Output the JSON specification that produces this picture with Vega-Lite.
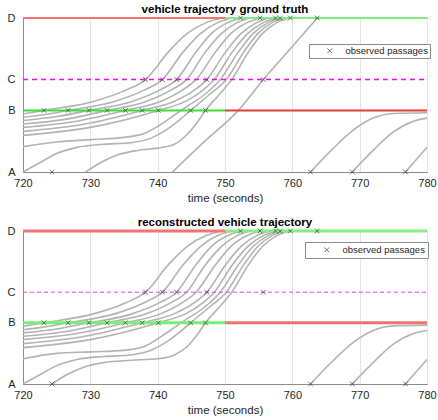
{
  "$schema": "https://vega.github.io/schema/vega-lite/v6.json",
  "background": "white",
  "padding": {"left": 6, "top": 3, "right": 4, "bottom": 0},
  "config": {
    "font": "Liberation Sans",
    "view": {"stroke": "#8c8c8c", "strokeWidth": 1},
    "axis": {"domainColor": "#8c8c8c", "labelColor": "#262626", "titleColor": "#262626", "labelFont": "Liberation Sans", "titleFont": "Liberation Sans", "labelFontSize": 11, "titleFontSize": 11.5, "titleFontWeight": "normal", "ticks": false, "tickSize": 0},
    "title": {"font": "Liberation Sans", "fontSize": 11.5, "fontWeight": "bold", "color": "#000000", "offset": -3},
    "legend": {"labelFont": "Liberation Sans"}
  },
  "datasets": {
    "truth": [
      {"id": "q1", "t": 720, "v": 0.377}, {"id": "q1", "t": 723.1, "v": 0.4}, {"id": "q1", "t": 730.6, "v": 0.46}, {"id": "q1", "t": 735.2, "v": 0.53}, {"id": "q1", "t": 738.2, "v": 0.6}, {"id": "q1", "t": 741.6, "v": 0.78}, {"id": "q1", "t": 744.4, "v": 0.9}, {"id": "q1", "t": 747.2, "v": 0.97}, {"id": "q1", "t": 749.5, "v": 1.0},
      {"id": "q2", "t": 720, "v": 0.355}, {"id": "q2", "t": 723, "v": 0.372}, {"id": "q2", "t": 726.7, "v": 0.4}, {"id": "q2", "t": 733.7, "v": 0.46}, {"id": "q2", "t": 737.9, "v": 0.53}, {"id": "q2", "t": 740.7, "v": 0.6}, {"id": "q2", "t": 743.8, "v": 0.78}, {"id": "q2", "t": 746.4, "v": 0.9}, {"id": "q2", "t": 748.9, "v": 0.97}, {"id": "q2", "t": 751, "v": 1.0},
      {"id": "q3", "t": 720, "v": 0.334}, {"id": "q3", "t": 725, "v": 0.36}, {"id": "q3", "t": 729.8, "v": 0.4}, {"id": "q3", "t": 736.3, "v": 0.46}, {"id": "q3", "t": 740.2, "v": 0.53}, {"id": "q3", "t": 742.8, "v": 0.6}, {"id": "q3", "t": 745.7, "v": 0.78}, {"id": "q3", "t": 748, "v": 0.9}, {"id": "q3", "t": 750.4, "v": 0.97}, {"id": "q3", "t": 752.3, "v": 1.0},
      {"id": "q4", "t": 720, "v": 0.312}, {"id": "q4", "t": 726, "v": 0.34}, {"id": "q4", "t": 732.5, "v": 0.4}, {"id": "q4", "t": 738.4, "v": 0.46}, {"id": "q4", "t": 741.9, "v": 0.53}, {"id": "q4", "t": 744.3, "v": 0.6}, {"id": "q4", "t": 747.1, "v": 0.78}, {"id": "q4", "t": 749.5, "v": 0.9}, {"id": "q4", "t": 751.8, "v": 0.97}, {"id": "q4", "t": 753.7, "v": 1.0},
      {"id": "q5", "t": 720, "v": 0.29}, {"id": "q5", "t": 728, "v": 0.33}, {"id": "q5", "t": 735.2, "v": 0.4}, {"id": "q5", "t": 740.5, "v": 0.46}, {"id": "q5", "t": 743.6, "v": 0.53}, {"id": "q5", "t": 745.7, "v": 0.6}, {"id": "q5", "t": 748.6, "v": 0.78}, {"id": "q5", "t": 750.9, "v": 0.9}, {"id": "q5", "t": 753.3, "v": 0.97}, {"id": "q5", "t": 755.2, "v": 1.0},
      {"id": "q6", "t": 720, "v": 0.264}, {"id": "q6", "t": 729, "v": 0.31}, {"id": "q6", "t": 737.7, "v": 0.4}, {"id": "q6", "t": 742.5, "v": 0.46}, {"id": "q6", "t": 745.4, "v": 0.53}, {"id": "q6", "t": 747.3, "v": 0.6}, {"id": "q6", "t": 750.1, "v": 0.78}, {"id": "q6", "t": 752.4, "v": 0.9}, {"id": "q6", "t": 754.7, "v": 0.97}, {"id": "q6", "t": 756.5, "v": 1.0},
      {"id": "q7", "t": 720, "v": 0.238}, {"id": "q7", "t": 730, "v": 0.29}, {"id": "q7", "t": 740.1, "v": 0.4}, {"id": "q7", "t": 744.2, "v": 0.46}, {"id": "q7", "t": 746.7, "v": 0.53}, {"id": "q7", "t": 748.4, "v": 0.6}, {"id": "q7", "t": 751.1, "v": 0.78}, {"id": "q7", "t": 753.4, "v": 0.9}, {"id": "q7", "t": 755.7, "v": 0.97}, {"id": "q7", "t": 757.5, "v": 1.0},
      {"id": "q8", "t": 720, "v": 0.165}, {"id": "q8", "t": 725, "v": 0.195}, {"id": "q8", "t": 730, "v": 0.21}, {"id": "q8", "t": 735, "v": 0.225}, {"id": "q8", "t": 738, "v": 0.25}, {"id": "q8", "t": 740.5, "v": 0.31}, {"id": "q8", "t": 742.5, "v": 0.37}, {"id": "q8", "t": 744.5, "v": 0.43}, {"id": "q8", "t": 746.9, "v": 0.5}, {"id": "q8", "t": 749.3, "v": 0.6}, {"id": "q8", "t": 752, "v": 0.78}, {"id": "q8", "t": 754.2, "v": 0.9}, {"id": "q8", "t": 756.4, "v": 0.97}, {"id": "q8", "t": 758.2, "v": 1.0},
      {"id": "q9", "t": 720, "v": 0}, {"id": "q9", "t": 722.5, "v": 0.06}, {"id": "q9", "t": 725, "v": 0.12}, {"id": "q9", "t": 728, "v": 0.16}, {"id": "q9", "t": 732, "v": 0.18}, {"id": "q9", "t": 736, "v": 0.19}, {"id": "q9", "t": 739, "v": 0.22}, {"id": "q9", "t": 741.5, "v": 0.28}, {"id": "q9", "t": 743.3, "v": 0.34}, {"id": "q9", "t": 744.9, "v": 0.4}, {"id": "q9", "t": 747.6, "v": 0.5}, {"id": "q9", "t": 750.2, "v": 0.6}, {"id": "q9", "t": 752.8, "v": 0.78}, {"id": "q9", "t": 754.9, "v": 0.9}, {"id": "q9", "t": 757, "v": 0.97}, {"id": "q9", "t": 759, "v": 1.0},
      {"id": "q10", "t": 729.3, "v": 0}, {"id": "q10", "t": 731.5, "v": 0.06}, {"id": "q10", "t": 734, "v": 0.11}, {"id": "q10", "t": 737, "v": 0.14}, {"id": "q10", "t": 740, "v": 0.155}, {"id": "q10", "t": 742.5, "v": 0.18}, {"id": "q10", "t": 744.5, "v": 0.25}, {"id": "q10", "t": 746, "v": 0.33}, {"id": "q10", "t": 747.1, "v": 0.4}, {"id": "q10", "t": 749.1, "v": 0.5}, {"id": "q10", "t": 751, "v": 0.6}, {"id": "q10", "t": 753.5, "v": 0.78}, {"id": "q10", "t": 755.6, "v": 0.9}, {"id": "q10", "t": 757.7, "v": 0.97}, {"id": "q10", "t": 759.7, "v": 1.0},
      {"id": "s", "t": 742.2, "v": 0}, {"id": "s", "t": 747, "v": 0.2}, {"id": "s", "t": 752, "v": 0.4}, {"id": "s", "t": 755.7, "v": 0.6}, {"id": "s", "t": 759.7, "v": 0.8}, {"id": "s", "t": 763.7, "v": 1.0},
      {"id": "r1", "t": 762.7, "v": 0}, {"id": "r1", "t": 766, "v": 0.15}, {"id": "r1", "t": 769, "v": 0.27}, {"id": "r1", "t": 772, "v": 0.35}, {"id": "r1", "t": 775, "v": 0.38}, {"id": "r1", "t": 780, "v": 0.385},
      {"id": "r2", "t": 768.9, "v": 0}, {"id": "r2", "t": 772, "v": 0.14}, {"id": "r2", "t": 775, "v": 0.26}, {"id": "r2", "t": 778, "v": 0.33}, {"id": "r2", "t": 780, "v": 0.35},
      {"id": "r3", "t": 776.8, "v": 0}, {"id": "r3", "t": 780, "v": 0.16}
    ],
    "recon": [
      {"id": "q1", "t": 720, "v": 0.377}, {"id": "q1", "t": 723.1, "v": 0.4}, {"id": "q1", "t": 730.6, "v": 0.46}, {"id": "q1", "t": 735.2, "v": 0.53}, {"id": "q1", "t": 738.2, "v": 0.6}, {"id": "q1", "t": 741.6, "v": 0.78}, {"id": "q1", "t": 744.4, "v": 0.9}, {"id": "q1", "t": 747.2, "v": 0.97}, {"id": "q1", "t": 749.5, "v": 1.0},
      {"id": "q2", "t": 720, "v": 0.355}, {"id": "q2", "t": 723, "v": 0.372}, {"id": "q2", "t": 726.7, "v": 0.4}, {"id": "q2", "t": 733.7, "v": 0.46}, {"id": "q2", "t": 737.9, "v": 0.53}, {"id": "q2", "t": 740.7, "v": 0.6}, {"id": "q2", "t": 743.8, "v": 0.78}, {"id": "q2", "t": 746.4, "v": 0.9}, {"id": "q2", "t": 748.9, "v": 0.97}, {"id": "q2", "t": 751, "v": 1.0},
      {"id": "q3", "t": 720, "v": 0.334}, {"id": "q3", "t": 725, "v": 0.36}, {"id": "q3", "t": 729.8, "v": 0.4}, {"id": "q3", "t": 736.3, "v": 0.46}, {"id": "q3", "t": 740.2, "v": 0.53}, {"id": "q3", "t": 742.8, "v": 0.6}, {"id": "q3", "t": 745.7, "v": 0.78}, {"id": "q3", "t": 748, "v": 0.9}, {"id": "q3", "t": 750.4, "v": 0.97}, {"id": "q3", "t": 752.3, "v": 1.0},
      {"id": "q4", "t": 720, "v": 0.312}, {"id": "q4", "t": 726, "v": 0.34}, {"id": "q4", "t": 732.5, "v": 0.4}, {"id": "q4", "t": 738.4, "v": 0.46}, {"id": "q4", "t": 741.9, "v": 0.53}, {"id": "q4", "t": 744.3, "v": 0.6}, {"id": "q4", "t": 747.1, "v": 0.78}, {"id": "q4", "t": 749.5, "v": 0.9}, {"id": "q4", "t": 751.8, "v": 0.97}, {"id": "q4", "t": 753.7, "v": 1.0},
      {"id": "q5", "t": 720, "v": 0.29}, {"id": "q5", "t": 728, "v": 0.33}, {"id": "q5", "t": 735.2, "v": 0.4}, {"id": "q5", "t": 740.5, "v": 0.46}, {"id": "q5", "t": 743.6, "v": 0.53}, {"id": "q5", "t": 745.7, "v": 0.6}, {"id": "q5", "t": 748.6, "v": 0.78}, {"id": "q5", "t": 750.9, "v": 0.9}, {"id": "q5", "t": 753.3, "v": 0.97}, {"id": "q5", "t": 755.2, "v": 1.0},
      {"id": "q6", "t": 720, "v": 0.264}, {"id": "q6", "t": 729, "v": 0.31}, {"id": "q6", "t": 737.7, "v": 0.4}, {"id": "q6", "t": 742.5, "v": 0.46}, {"id": "q6", "t": 745.4, "v": 0.53}, {"id": "q6", "t": 747.3, "v": 0.6}, {"id": "q6", "t": 750.1, "v": 0.78}, {"id": "q6", "t": 752.4, "v": 0.9}, {"id": "q6", "t": 754.7, "v": 0.97}, {"id": "q6", "t": 756.5, "v": 1.0},
      {"id": "q7", "t": 720, "v": 0.238}, {"id": "q7", "t": 730, "v": 0.29}, {"id": "q7", "t": 740.1, "v": 0.4}, {"id": "q7", "t": 744.2, "v": 0.46}, {"id": "q7", "t": 746.7, "v": 0.53}, {"id": "q7", "t": 748.4, "v": 0.6}, {"id": "q7", "t": 751.1, "v": 0.78}, {"id": "q7", "t": 753.4, "v": 0.9}, {"id": "q7", "t": 755.7, "v": 0.97}, {"id": "q7", "t": 757.5, "v": 1.0},
      {"id": "q8", "t": 720, "v": 0.165}, {"id": "q8", "t": 725, "v": 0.2}, {"id": "q8", "t": 730, "v": 0.21}, {"id": "q8", "t": 735, "v": 0.22}, {"id": "q8", "t": 738, "v": 0.245}, {"id": "q8", "t": 740.5, "v": 0.31}, {"id": "q8", "t": 742.5, "v": 0.37}, {"id": "q8", "t": 744.5, "v": 0.43}, {"id": "q8", "t": 746.9, "v": 0.5}, {"id": "q8", "t": 749.3, "v": 0.6}, {"id": "q8", "t": 752, "v": 0.78}, {"id": "q8", "t": 754.2, "v": 0.9}, {"id": "q8", "t": 756.4, "v": 0.97}, {"id": "q8", "t": 758.2, "v": 1.0},
      {"id": "q9", "t": 720, "v": 0}, {"id": "q9", "t": 722.5, "v": 0.06}, {"id": "q9", "t": 725, "v": 0.12}, {"id": "q9", "t": 728, "v": 0.16}, {"id": "q9", "t": 732, "v": 0.18}, {"id": "q9", "t": 736, "v": 0.19}, {"id": "q9", "t": 739, "v": 0.22}, {"id": "q9", "t": 741.5, "v": 0.28}, {"id": "q9", "t": 743.3, "v": 0.34}, {"id": "q9", "t": 744.9, "v": 0.4}, {"id": "q9", "t": 747.6, "v": 0.5}, {"id": "q9", "t": 750.2, "v": 0.6}, {"id": "q9", "t": 752.8, "v": 0.78}, {"id": "q9", "t": 754.9, "v": 0.9}, {"id": "q9", "t": 757, "v": 0.97}, {"id": "q9", "t": 759, "v": 1.0},
      {"id": "q10", "t": 724.3, "v": 0}, {"id": "q10", "t": 726.5, "v": 0.06}, {"id": "q10", "t": 729, "v": 0.11}, {"id": "q10", "t": 732, "v": 0.14}, {"id": "q10", "t": 736, "v": 0.155}, {"id": "q10", "t": 740, "v": 0.165}, {"id": "q10", "t": 742.5, "v": 0.19}, {"id": "q10", "t": 744.5, "v": 0.25}, {"id": "q10", "t": 746, "v": 0.33}, {"id": "q10", "t": 747.1, "v": 0.4}, {"id": "q10", "t": 749.1, "v": 0.5}, {"id": "q10", "t": 751, "v": 0.6}, {"id": "q10", "t": 753.5, "v": 0.78}, {"id": "q10", "t": 755.6, "v": 0.9}, {"id": "q10", "t": 757.7, "v": 0.97}, {"id": "q10", "t": 759.7, "v": 1.0},
      {"id": "r1", "t": 762.7, "v": 0}, {"id": "r1", "t": 766, "v": 0.15}, {"id": "r1", "t": 769, "v": 0.27}, {"id": "r1", "t": 772, "v": 0.35}, {"id": "r1", "t": 775, "v": 0.38}, {"id": "r1", "t": 780, "v": 0.385},
      {"id": "r2", "t": 768.9, "v": 0}, {"id": "r2", "t": 772, "v": 0.14}, {"id": "r2", "t": 775, "v": 0.26}, {"id": "r2", "t": 778, "v": 0.33}, {"id": "r2", "t": 780, "v": 0.35},
      {"id": "r3", "t": 776.8, "v": 0}, {"id": "r3", "t": 780, "v": 0.16}
    ],
    "signals": [
      {"signal": "D red", "v": 1.0, "t0": 720, "t1": 750},
      {"signal": "D green", "v": 1.0, "t0": 750, "t1": 780},
      {"signal": "B green", "v": 0.4, "t0": 720, "t1": 750},
      {"signal": "B red", "v": 0.4, "t0": 750, "t1": 780}
    ],
    "passages": [
      {"t": 723.1, "v": 0.4, "kind": "observed passages"}, {"t": 726.7, "v": 0.4, "kind": "observed passages"}, {"t": 729.8, "v": 0.4, "kind": "observed passages"}, {"t": 732.5, "v": 0.4, "kind": "observed passages"}, {"t": 735.2, "v": 0.4, "kind": "observed passages"}, {"t": 737.7, "v": 0.4, "kind": "observed passages"}, {"t": 740.1, "v": 0.4, "kind": "observed passages"}, {"t": 744.9, "v": 0.4, "kind": "observed passages"}, {"t": 747.1, "v": 0.4, "kind": "observed passages"},
      {"t": 738.2, "v": 0.6, "kind": "observed passages"}, {"t": 740.7, "v": 0.6, "kind": "observed passages"}, {"t": 742.8, "v": 0.6, "kind": "observed passages"}, {"t": 747.3, "v": 0.6, "kind": "observed passages"}, {"t": 755.7, "v": 0.6, "kind": "observed passages"},
      {"t": 752.3, "v": 1.0, "kind": "observed passages"}, {"t": 755.2, "v": 1.0, "kind": "observed passages"}, {"t": 757.5, "v": 1.0, "kind": "observed passages"}, {"t": 758.2, "v": 1.0, "kind": "observed passages"}, {"t": 759.7, "v": 1.0, "kind": "observed passages"}, {"t": 763.7, "v": 1.0, "kind": "observed passages"},
      {"t": 724.3, "v": 0, "kind": "observed passages"}, {"t": 762.7, "v": 0, "kind": "observed passages"}, {"t": 768.9, "v": 0, "kind": "observed passages"}, {"t": 776.8, "v": 0, "kind": "observed passages"}
    ]
  },
  "spacing": 12,
  "vconcat": [
    {
      "width": 404, "height": 154,
      "title": {"text": "vehicle trajectory ground truth"},
      "encoding": {
        "x": {"field": "t", "type": "quantitative", "scale": {"domain": [720, 780], "nice": false, "zero": false},
          "axis": {"values": [720, 730, 740, 750, 760, 770, 780], "title": "time (seconds)", "grid": true, "gridColor": "#e4e4e4", "labelPadding": 5, "titlePadding": 4, "labelFlush": false}},
        "y": {"field": "v", "type": "quantitative", "scale": {"domain": [0, 1], "nice": false},
          "axis": {"values": [0, 0.4, 0.6, 1], "title": null, "grid": false, "labelPadding": 8, "labelExpr": "datum.value == 0 ? 'A' : datum.value < 0.5 ? 'B' : datum.value < 0.8 ? 'C' : 'D'"}}
      },
      "layer": [
        {"data": {"name": "truth"}, "mark": {"type": "line", "interpolate": "monotone", "color": "#b3b3b3", "strokeWidth": 1.6, "clip": true},
          "encoding": {"detail": {"field": "id"}}},
        {"data": {"name": "signals"}, "mark": {"type": "rule", "strokeWidth": 2},
          "encoding": {"x": {"field": "t0", "type": "quantitative"}, "x2": {"field": "t1"},
            "color": {"field": "signal", "type": "nominal", "scale": {"domain": ["D red", "D green", "B green", "B red"], "range": ["#f47474", "#7ff07f", "#3ae03a", "#e63a3a"]}, "legend": null}}},
        {"data": {"values": [{"t0": 720, "t1": 780, "v": 0.6}]}, "mark": {"type": "rule", "color": "#ff00ff", "strokeWidth": 1.5, "strokeDash": [5, 4]},
          "encoding": {"x": {"field": "t0", "type": "quantitative"}, "x2": {"field": "t1"}}},
        {"data": {"name": "passages"}, "mark": {"type": "point", "shape": "M-1,-1L1,1M1,-1L-1,1", "filled": false, "strokeWidth": 1, "size": 22},
          "encoding": {"color": {"field": "kind", "type": "nominal", "scale": {"range": ["#3a3a3a"]},
            "legend": {"title": null, "orient": "none", "legendX": 286, "legendY": 26, "strokeColor": "#8c8c8c", "fillColor": "white", "padding": 2, "labelFontSize": 9.5, "labelLimit": 120, "labelColor": "#262626", "symbolSize": 22, "symbolStrokeWidth": 1, "symbolType": "M-1,-1L1,1M1,-1L-1,1", "symbolOffset": 14, "labelOffset": 11}}}}
      ],
      "resolve": {"scale": {"color": "independent"}}
    },
    {
      "width": 404, "height": 153,
      "title": {"text": "reconstructed vehicle trajectory"},
      "encoding": {
        "x": {"field": "t", "type": "quantitative", "scale": {"domain": [720, 780], "nice": false, "zero": false},
          "axis": {"values": [720, 730, 740, 750, 760, 770, 780], "title": "time (seconds)", "grid": true, "gridColor": "#e4e4e4", "labelPadding": 5, "titlePadding": 4, "labelFlush": false}},
        "y": {"field": "v", "type": "quantitative", "scale": {"domain": [0, 1], "nice": false},
          "axis": {"values": [0, 0.4, 0.6, 1], "title": null, "grid": false, "labelPadding": 8, "labelExpr": "datum.value == 0 ? 'A' : datum.value < 0.5 ? 'B' : datum.value < 0.8 ? 'C' : 'D'"}}
      },
      "layer": [
        {"data": {"name": "recon"}, "mark": {"type": "line", "interpolate": "monotone", "color": "#b3b3b3", "strokeWidth": 1.6, "clip": true},
          "encoding": {"detail": {"field": "id"}}},
        {"data": {"name": "signals"}, "mark": {"type": "rule", "strokeWidth": 3},
          "encoding": {"x": {"field": "t0", "type": "quantitative"}, "x2": {"field": "t1"},
            "color": {"field": "signal", "type": "nominal", "scale": {"domain": ["D red", "D green", "B green", "B red"], "range": ["#f47474", "#80f080", "#74f074", "#f27272"]}, "legend": null}}},
        {"data": {"values": [{"t0": 720, "t1": 780, "v": 0.6}]}, "mark": {"type": "rule", "color": "#e040e0", "strokeWidth": 1, "strokeDash": [4, 3]},
          "encoding": {"x": {"field": "t0", "type": "quantitative"}, "x2": {"field": "t1"}}},
        {"data": {"name": "passages"}, "mark": {"type": "point", "shape": "M-1,-1L1,1M1,-1L-1,1", "filled": false, "strokeWidth": 1, "size": 22},
          "encoding": {"color": {"field": "kind", "type": "nominal", "scale": {"range": ["#3a3a3a"]},
            "legend": {"title": null, "orient": "none", "legendX": 282, "legendY": 11, "strokeColor": "#8c8c8c", "fillColor": "white", "padding": 3, "labelFontSize": 9.5, "labelLimit": 120, "labelColor": "#262626", "symbolSize": 22, "symbolStrokeWidth": 1, "symbolType": "M-1,-1L1,1M1,-1L-1,1", "symbolOffset": 14, "labelOffset": 11}}}}
      ],
      "resolve": {"scale": {"color": "independent"}}
    }
  ],
  "resolve": {"scale": {"color": "independent"}, "legend": {"color": "independent"}}
}
